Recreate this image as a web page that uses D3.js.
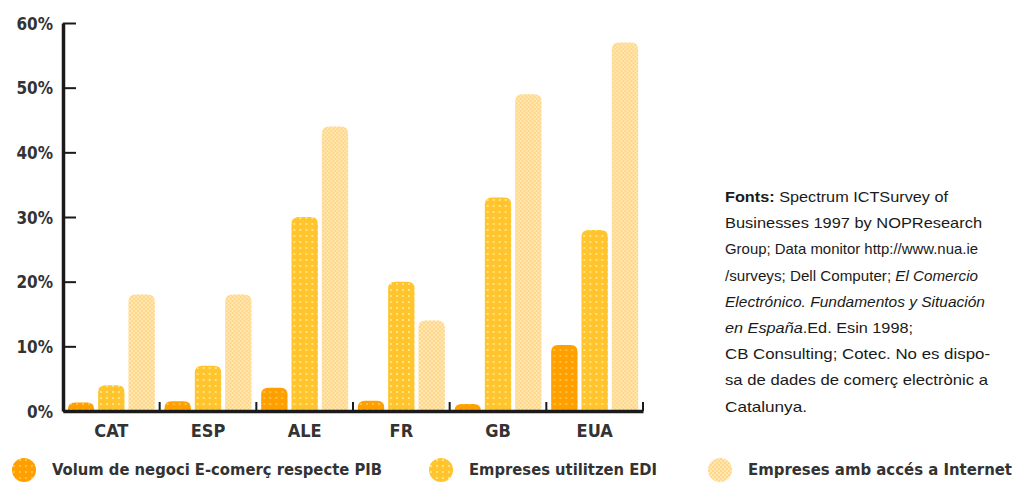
<!DOCTYPE html>
<html>
<head>
<meta charset="utf-8">
<script src="https://cdn.jsdelivr.net/npm/d3@7"></script>
<style>
  body { margin: 0; background: #fff; }
  .cond { font-family: "Liberation Sans Narrow", "DejaVu Sans Condensed", "Roboto Condensed", sans-serif; font-weight: bold; fill: #333; }
  .note { font-family: "Liberation Sans", Arial, sans-serif; font-size: 15px; fill: #1a1a1a; }
</style>
</head>
<body>
<div id="chart"></div>
<script>
// values (%)
var countries = ['CAT', 'ESP', 'ALE', 'FR', 'GB', 'EUA'];
var series = ['Volum de negoci E-comerç respecte PIB', 'Empreses utilitzen EDI', 'Empreses amb accés a Internet'];
var volum    = [1.3, 1.5, 3.6, 1.6, 1.1, 10.2];
var edi      = [4, 7, 30, 20, 33, 28];
var internet = [18, 18, 44, 14, 49, 57];
var yTicks = [0, 10, 20, 30, 40, 50, 60];
var notes = [
  [['Fonts:', 'b'], [' Spectrum  ICTSurvey  of', '']],
  [['Businesses  1997  by  NOPResearch', '']],
  [['Group; Data monitor http://www.nua.ie', '']],
  [['/surveys; Dell Computer; ', ''], ['El Comercio', 'i']],
  [['Electrónico. Fundamentos y Situación', 'i']],
  [['en España', 'i'], ['.Ed. Esin 1998;', '']],
  [['CB Consulting;  Cotec. No es dispo-', '']],
  [['sa de dades de comerç electrònic a', '']],
  [['Catalunya.', '']]
];
var noteWidths = [223, 257, 253, 253, 260, 188, 265, 263, 82];

var width = 1014, height = 486;
var svg = d3.select('#chart').append('svg')
  .attr('width', width)
  .attr('height', height);

// fill patterns, dotted like the printed original
var defs = svg.append('defs');
function dotPattern(id, bg, dot, size, step) {
  var p = defs.append('pattern').attr('id', id)
    .attr('patternUnits', 'userSpaceOnUse')
    .attr('width', step).attr('height', step);
  p.append('rect').attr('width', step).attr('height', step).attr('fill', bg);
  p.append('rect').attr('x', 1).attr('y', 1).attr('width', size).attr('height', size).attr('fill', dot);
}
dotPattern('p0', '#ffa000', '#ffc040', 2, 6);
dotPattern('p1', '#ffc42e', '#ffe47a', 2, 6);
var p2 = defs.append('pattern').attr('id', 'p2')
  .attr('patternUnits', 'userSpaceOnUse').attr('width', 4).attr('height', 4);
p2.append('rect').attr('width', 4).attr('height', 4).attr('fill', '#ffe7b0');
p2.append('rect').attr('width', 2).attr('height', 2).attr('fill', '#ffd68c');
p2.append('rect').attr('x', 2).attr('y', 2).attr('width', 2).attr('height', 2).attr('fill', '#ffd68c');
var fills = ['url(#p0)', 'url(#p1)', 'url(#p2)'];

var x0 = 63, x1 = 643, yBase = 411, yTop = 23;

var y = d3.scaleLinear().domain([0, 60]).range([yBase, yTop]);
var xGroup = d3.scaleBand().domain(countries).range([x0, x1]).padding(0);
var xSub = d3.scaleBand().domain([0, 1, 2]).range([0, xGroup.bandwidth()])
  .paddingInner(0.13).paddingOuter(0.16);

var data = countries.map(function(c, i) {
  return { country: c, values: [volum[i], edi[i], internet[i]] };
});

// bar with rounded top corners; short bars become humps
function barPath(x, w, top, bottom) {
  var h = bottom - top;
  var rx = Math.min(7, w / 2);
  var ry = Math.min(7, h);
  return 'M' + x + ',' + bottom +
    'V' + (top + ry) +
    'Q' + x + ',' + top + ' ' + (x + rx) + ',' + top +
    'H' + (x + w - rx) +
    'Q' + (x + w) + ',' + top + ' ' + (x + w) + ',' + (top + ry) +
    'V' + bottom + 'Z';
}

var groups = svg.append('g').selectAll('g')
  .data(data).enter().append('g')
  .attr('transform', function(d) { return 'translate(' + xGroup(d.country) + ',0)'; });

groups.selectAll('path')
  .data(function(d) { return d.values; })
  .enter().append('path')
  .attr('d', function(v, i) { return barPath(xSub(i), xSub.bandwidth(), y(v), yBase); })
  .attr('fill', function(v, i) { return fills[i]; });

// y axis
var yAxis = svg.append('g')
  .attr('transform', 'translate(' + x0 + ',0)')
  .call(d3.axisLeft(y).tickValues(yTicks).tickFormat(function(d) { return d + '%'; })
    .tickSizeInner(-13).tickSizeOuter(0).tickPadding(10));
yAxis.select('.domain').attr('stroke', '#1a1a1a').attr('stroke-width', 3.5);
yAxis.selectAll('.tick line').attr('stroke', '#1a1a1a').attr('stroke-width', 2);
yAxis.selectAll('.tick text').attr('class', 'cond').attr('font-size', 17).attr('dy', '0.36em');

// x axis
var xAxis = svg.append('g')
  .attr('transform', 'translate(0,' + yBase + ')')
  .call(d3.axisBottom(xGroup).tickSize(0).tickPadding(13));
xAxis.select('.domain').attr('stroke', '#1a1a1a').attr('stroke-width', 3.5);
xAxis.selectAll('.tick text').attr('class', 'cond').attr('font-size', 18);

svg.append('g').selectAll('line')
  .data(countries).enter().append('line')
  .attr('x1', function(d) { return xGroup(d) + xGroup.bandwidth(); })
  .attr('x2', function(d) { return xGroup(d) + xGroup.bandwidth(); })
  .attr('y1', yBase).attr('y2', yBase - 9)
  .attr('stroke', '#1a1a1a').attr('stroke-width', 2);

// legend
var legendX = [24, 441, 720];
var legendW = [330, 188, 264];
var legend = svg.append('g').selectAll('g')
  .data(series).enter().append('g')
  .attr('transform', function(d, i) { return 'translate(' + legendX[i] + ',470)'; });
legend.append('circle').attr('r', 12).attr('fill', function(d, i) { return fills[i]; });
legend.append('text').attr('class', 'cond')
  .attr('x', 28).attr('dy', '0.36em').attr('font-size', 15)
  .attr('textLength', function(d, i) { return legendW[i]; })
  .attr('lengthAdjust', 'spacingAndGlyphs')
  .text(function(d) { return d; });

// sources note
var note = svg.append('g').attr('transform', 'translate(725,0)');
note.selectAll('text')
  .data(notes).enter().append('text')
  .attr('class', 'note')
  .attr('y', function(d, i) { return 202 + i * 26.2; })
  .attr('textLength', function(d, i) { return noteWidths[i]; })
  .attr('lengthAdjust', 'spacingAndGlyphs')
  .each(function(d) {
    var t = d3.select(this);
    d.forEach(function(part) {
      t.append('tspan')
        .attr('font-weight', part[1] === 'b' ? 'bold' : null)
        .attr('font-style', part[1] === 'i' ? 'italic' : null)
        .text(part[0]);
    });
  });
</script>
</body>
</html>
